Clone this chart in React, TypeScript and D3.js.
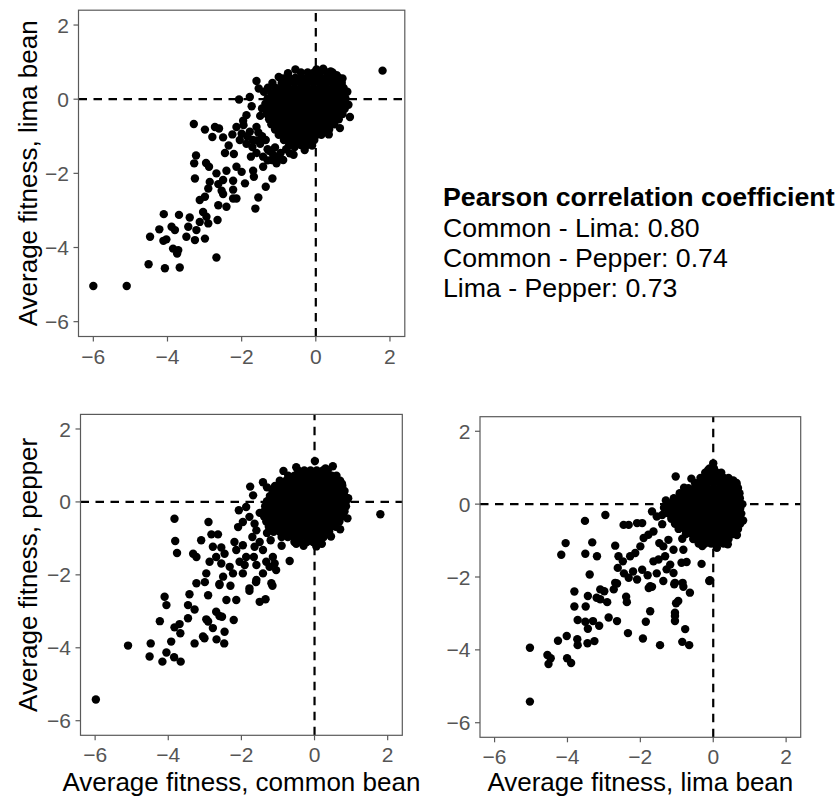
import React from "react";
import * as d3 from "d3";

type Pt = [number, number];
type Row = [number, number[]];

const axisTicks = [-6, -4, -2, 0, 2];
const axisLimits: [number, number] = [-6.4, 2.4];

const titleCommon = "Average fitness, common bean";
const titleLima = "Average fitness, lima bean";
const titlePepper = "Average fitness, pepper";

const legendTitle = "Pearson correlation coefficient";
const legendLines = [
  "Common - Lima: 0.80",
  "Common - Pepper: 0.74",
  "Lima - Pepper: 0.73",
];

// Panel 1: common bean (x) vs lima bean (y)
const commonLimaSpread: Pt[] = [
  [1.8, 0.77], [0.02, 0.8], [-1.6, 0.49], [-1.54, 0.29], [-1.17, 0.44], [-0.88, 0.56], [-1.29, 0.31],
  [-2.07, -0.01], [-1.78, 0.06], [-1.73, -0.19], [0.56, 0.65], [0.72, 0.56], [0.92, -0.48], [-0.3, -1.37],
  [-3.29, -0.67], [-2.99, -0.82], [-2.72, -0.75], [-2.61, -0.79], [-2.79, -1.02], [-2.5, -1.03], [-2.14, -0.75],
  [-1.96, -0.58], [-1.87, -0.43], [-2.0, -0.93], [-1.78, -0.88], [-1.6, -0.75], [-1.87, -1.2], [-1.6, -1.11],
  [-1.71, -1.29], [-1.42, -1.55], [-1.19, -1.64], [-1.06, -1.73], [-0.88, -1.64], [-0.7, -1.46], [-0.57, -1.29],
  [-1.45, -1.0], [-1.5, -0.45], [-1.3, -1.35],
  [-1.95, -0.7], [-1.85, -1.0], [-1.7, -1.1], [-1.55, -0.9], [-1.5, -1.2], [-1.35, -1.1], [-1.25, -1.4],
  [-1.1, -1.3], [-1.15, -1.5], [-0.95, -1.45], [-0.8, -1.35], [-1.3, -1.65], [-1.0, -1.6], [-0.6, -1.5],
  [-1.6, -1.45], [-2.05, -1.1], [-1.75, -1.55], [-2.25, -0.95], [-2.35, -1.25],
  [-1.0, 0.6], [-0.75, 0.7], [-0.55, 0.8], [-1.4, 0.2], [0.4, 0.75], [0.85, 0.2], [0.88, -0.15],
  [0.65, -0.78], [0.35, -0.95], [-0.1, -1.25], [-1.45, -0.25], [0.2, 0.82],
  [-2.45, -1.45], [-2.21, -1.48], [-3.23, -1.52], [-3.28, -1.73], [-2.96, -1.72], [-2.88, -1.82], [-2.68, -2.0],
  [-2.41, -1.93], [-2.14, -1.82], [-2.0, -1.96], [-1.69, -1.93], [-1.67, -2.09], [-1.91, -2.27], [-2.23, -2.2],
  [-2.5, -2.18], [-2.63, -2.29], [-2.86, -2.23], [-3.26, -2.14], [-2.9, -2.41], [-2.54, -2.47], [-2.23, -2.44],
  [-1.17, -2.14], [-1.35, -2.36], [-1.42, -1.82],
  [-3.13, -2.72], [-2.99, -2.63], [-2.5, -2.56], [-2.23, -2.68], [-2.14, -2.68], [-1.55, -2.65], [-2.63, -2.86],
  [-2.41, -2.9], [-1.63, -2.95], [-4.1, -3.1], [-3.69, -3.12], [-3.4, -3.19], [-3.04, -3.04], [-2.95, -3.17],
  [-3.13, -3.31], [-2.9, -3.35], [-2.65, -3.26], [-4.22, -3.51], [-3.89, -3.44], [-3.8, -3.53], [-3.44, -3.44],
  [-3.22, -3.53], [-4.47, -3.71], [-4.11, -3.82], [-4.03, -3.78], [-3.49, -3.71], [-3.26, -3.8], [-2.99, -3.76],
  [-3.85, -4.03], [-3.71, -4.07], [-3.74, -4.16], [-2.68, -4.27], [-4.51, -4.45], [-4.07, -4.56], [-3.67, -4.54],
  [-6.0, -5.04], [-5.1, -5.04],
];

const commonLimaCoreRows: Row[] = [
  [0.72, [-0.4, -0.22, -0.05, 0.12, 0.3, 0.45]],
  [0.58, [-0.72, -0.55, -0.38, -0.2, -0.03, 0.14, 0.31, 0.48, 0.62]],
  [0.44, [-0.92, -0.75, -0.58, -0.41, -0.24, -0.07, 0.1, 0.27, 0.44, 0.6, 0.7]],
  [0.3, [-1.08, -0.91, -0.74, -0.57, -0.4, -0.23, -0.06, 0.11, 0.28, 0.45, 0.62, 0.75]],
  [0.16, [-1.2, -1.03, -0.86, -0.69, -0.52, -0.35, -0.18, -0.01, 0.16, 0.33, 0.5, 0.66, 0.78]],
  [0.02, [-1.3, -1.13, -0.96, -0.79, -0.62, -0.45, -0.28, -0.11, 0.06, 0.23, 0.4, 0.57, 0.74, 0.8]],
  [-0.12, [-1.36, -1.19, -1.02, -0.85, -0.68, -0.51, -0.34, -0.17, 0.0, 0.17, 0.34, 0.51, 0.68, 0.8]],
  [-0.26, [-1.36, -1.22, -1.05, -0.88, -0.71, -0.54, -0.37, -0.2, -0.03, 0.14, 0.31, 0.48, 0.65, 0.78]],
  [-0.4, [-1.32, -1.15, -0.98, -0.81, -0.64, -0.47, -0.3, -0.13, 0.04, 0.21, 0.38, 0.55, 0.72]],
  [-0.54, [-1.26, -1.09, -0.92, -0.75, -0.58, -0.41, -0.24, -0.07, 0.1, 0.27, 0.44, 0.62]],
  [-0.68, [-1.2, -1.03, -0.86, -0.69, -0.52, -0.35, -0.18, -0.01, 0.16, 0.33, 0.5]],
  [-0.82, [-1.1, -0.93, -0.76, -0.59, -0.42, -0.25, -0.08, 0.09, 0.26, 0.36]],
  [-0.96, [-1.0, -0.83, -0.66, -0.49, -0.32, -0.15, 0.02, 0.15]],
  [-1.1, [-0.86, -0.69, -0.52, -0.35, -0.18, -0.04]],
  [-1.24, [-0.72, -0.55, -0.38, -0.26]],
];

// Panel 2: common bean (x) vs pepper (y)
const commonPepperSpread: Pt[] = [
  [0.01, 1.12], [0.5, 0.98], [1.8, -0.34], [-1.41, 0.54], [-1.76, 0.42], [-1.68, 0.18], [-2.07, -0.23],
  [-1.87, -0.14], [-1.78, -0.41], [-1.64, -0.6], [-2.09, -0.69], [-1.96, -0.55], [-1.59, -0.78], [-1.7, -0.96],
  [-1.5, -1.1], [-1.64, -1.23], [-1.41, -1.32], [-1.66, -1.51], [-2.19, -1.1], [-2.14, -1.32], [-1.96, -1.19],
  [-1.87, -1.51], [-2.05, -1.64], [-1.91, -1.73], [-1.59, -1.73], [-1.32, -1.64], [-1.14, -1.51], [-1.23, -1.78],
  [-1.05, -1.87], [-0.68, -1.62], [-1.09, -1.69], [-0.5, -1.15], [0.2, -1.15], [-0.9, -1.2],
  [-0.85, 0.85], [-0.5, 0.95], [0.3, 0.92], [0.75, 0.5], [0.92, 0.1], [0.9, -0.45], [0.7, -0.75],
  [0.45, -0.95], [0.05, -1.22], [-0.3, -1.2], [-1.3, -0.85], [-1.5, -0.3], [-1.3, 0.4], [-1.2, -1.05],
  [-3.83, -0.46], [-2.9, -0.55], [-2.82, -0.89], [-2.64, -0.89], [-3.1, -1.05], [-3.81, -1.07], [-3.76, -1.4],
  [-3.32, -1.42], [-3.23, -1.51], [-2.78, -1.23], [-2.55, -1.25], [-2.46, -1.42], [-2.69, -1.51], [-2.87, -1.64],
  [-2.55, -1.69], [-2.32, -1.78], [-2.23, -1.96], [-2.5, -2.05], [-1.96, -1.96], [-1.59, -2.14], [-1.41, -1.96],
  [-1.18, -2.23], [-2.96, -1.96], [-3.23, -2.23], [-2.6, -2.28], [-1.78, -2.37],
  [-3.0, -2.2], [-2.6, -2.25], [-2.3, -2.3], [-1.6, -2.2], [-1.15, -2.3],
  [-3.42, -2.53], [-2.91, -2.56], [-2.41, -2.69], [-2.14, -2.69], [-1.78, -2.44], [-1.5, -2.74], [-1.34, -2.67],
  [-4.1, -2.6], [-4.05, -2.83], [-3.46, -2.83], [-3.28, -2.95], [-3.46, -3.19], [-4.23, -3.27], [-3.69, -3.35],
  [-3.83, -3.44], [-3.67, -3.6], [-3.92, -3.83], [-4.48, -3.88], [-4.51, -4.24], [-4.05, -4.13], [-4.16, -4.38],
  [-3.84, -4.26], [-3.66, -4.38], [-5.1, -3.94], [-5.98, -5.42], [-2.96, -3.22], [-3.01, -3.74], [-3.05, -3.69],
  [-2.91, -3.28], [-2.69, -3.01], [-2.6, -3.13], [-2.53, -3.15], [-2.78, -3.46], [-2.68, -3.77], [-2.47, -3.88],
  [-2.46, -3.56], [-2.21, -3.24], [-3.28, -3.88],
];

const commonPepperCoreRows: Row[] = [
  [0.86, [-0.45, -0.28, -0.11, 0.06, 0.23, 0.36]],
  [0.72, [-0.72, -0.55, -0.38, -0.21, -0.04, 0.13, 0.3, 0.47, 0.6]],
  [0.58, [-0.95, -0.78, -0.61, -0.44, -0.27, -0.1, 0.07, 0.24, 0.41, 0.58, 0.7]],
  [0.44, [-1.08, -0.91, -0.74, -0.57, -0.4, -0.23, -0.06, 0.11, 0.28, 0.45, 0.62, 0.76]],
  [0.3, [-1.15, -0.98, -0.81, -0.64, -0.47, -0.3, -0.13, 0.04, 0.21, 0.38, 0.55, 0.72, 0.82]],
  [0.16, [-1.22, -1.05, -0.88, -0.71, -0.54, -0.37, -0.2, -0.03, 0.14, 0.31, 0.48, 0.65, 0.82]],
  [0.02, [-1.3, -1.13, -0.96, -0.79, -0.62, -0.45, -0.28, -0.11, 0.06, 0.23, 0.4, 0.57, 0.74, 0.86]],
  [-0.12, [-1.35, -1.18, -1.01, -0.84, -0.67, -0.5, -0.33, -0.16, 0.01, 0.18, 0.35, 0.52, 0.69, 0.86]],
  [-0.26, [-1.38, -1.22, -1.05, -0.88, -0.71, -0.54, -0.37, -0.2, -0.03, 0.14, 0.31, 0.48, 0.65, 0.82]],
  [-0.4, [-1.38, -1.21, -1.04, -0.87, -0.7, -0.53, -0.36, -0.19, -0.02, 0.15, 0.32, 0.49, 0.66, 0.76]],
  [-0.54, [-1.32, -1.15, -0.98, -0.81, -0.64, -0.47, -0.3, -0.13, 0.04, 0.21, 0.38, 0.55, 0.68]],
  [-0.68, [-1.25, -1.08, -0.91, -0.74, -0.57, -0.4, -0.23, -0.06, 0.11, 0.28, 0.45, 0.58]],
  [-0.82, [-1.12, -0.95, -0.78, -0.61, -0.44, -0.27, -0.1, 0.07, 0.24, 0.4]],
  [-0.96, [-0.9, -0.73, -0.56, -0.39, -0.22, -0.05, 0.12, 0.25]],
  [-1.1, [-0.55, -0.38, -0.21, -0.04, 0.1]],
];

// Panel 3: lima bean (x) vs pepper (y)
const limaPepperSpread: Pt[] = [
  [0.0, 1.12], [-0.14, 0.94], [-1.03, 0.76], [0.64, 0.53], [0.27, 0.71],
  [-0.6, 0.7], [-0.8, 0.45], [0.55, 0.65], [0.8, 0.0], [0.82, -0.45], [0.65, -0.85], [0.4, -1.1],
  [0.1, -1.2], [-0.3, -1.15], [-0.85, -0.95], [-1.35, -0.1], [-1.3, 0.1],
  [-3.52, -0.46], [-2.96, -0.3], [-2.46, -0.57], [-2.32, -0.57], [-2.09, -0.52], [-1.95, -0.52], [-1.68, -0.2],
  [-1.55, -0.34], [-1.4, -0.3], [-1.4, -0.55],
  [-4.05, -1.07], [-4.17, -1.39], [-3.51, -1.36], [-3.32, -1.05], [-3.19, -1.43], [-2.69, -1.14], [-2.6, -1.43],
  [-2.48, -1.57], [-2.28, -1.43], [-2.14, -1.34], [-2.0, -1.16], [-1.91, -0.93], [-1.78, -0.84], [-1.64, -0.75],
  [-1.48, -1.07], [-1.37, -1.16], [-1.23, -0.98], [-1.64, -1.57], [-1.5, -1.52], [-1.32, -1.43], [-1.09, -1.25],
  [-0.82, -1.25], [-0.32, -1.64], [-0.87, -1.61], [-0.73, -1.59], [-1.18, -1.66], [-1.28, -1.79], [-1.09, -1.89],
  [-3.39, -1.93], [-2.62, -1.75], [-2.32, -2.02], [-2.09, -2.07], [-1.73, -2.25], [-0.09, -2.09],
  [-2.2, -1.85], [-1.95, -1.8], [-1.8, -1.95], [-1.55, -1.9], [-2.45, -1.9], [-3.1, -2.34], [-2.69, -2.16],
  [-1.37, -2.11], [-1.05, -2.16],
  [-5.03, -3.94], [-5.03, -5.42], [-4.55, -4.14], [-4.46, -4.23], [-4.52, -4.39], [-4.01, -4.23], [-3.9, -4.36],
  [-4.26, -3.75], [-4.02, -3.62], [-3.73, -3.71], [-3.72, -3.87], [-3.45, -3.82], [-3.26, -3.76], [-3.81, -2.4],
  [-3.81, -2.81], [-3.5, -2.81], [-3.44, -2.52], [-3.72, -3.18], [-3.51, -3.23], [-3.44, -3.42], [-3.3, -3.21],
  [-3.13, -3.34], [-3.2, -2.57], [-3.1, -2.61], [-2.99, -2.39], [-2.91, -2.69], [-2.87, -3.11], [-2.64, -3.21],
  [-2.73, -2.34], [-2.64, -2.18], [-2.39, -2.54], [-2.37, -2.69], [-2.34, -3.54], [-1.93, -3.69], [-1.85, -3.23],
  [-1.73, -2.94], [-1.77, -2.3], [-1.68, -2.27], [-1.46, -3.87], [-1.07, -2.2], [-0.84, -2.16], [-0.82, -2.27],
  [-1.02, -2.72], [-0.96, -2.66], [-1.05, -2.98], [-1.05, -3.07], [-1.05, -3.21], [-0.77, -3.43], [-0.64, -2.43],
  [-0.85, -3.78], [-0.66, -3.87], [-0.11, -2.11],
];

const limaPepperCoreRows: Row[] = [
  [0.98, [-0.1, 0.02]],
  [0.86, [-0.22, -0.06, 0.1, 0.22]],
  [0.72, [-0.35, -0.19, -0.03, 0.13, 0.29, 0.42]],
  [0.58, [-0.5, -0.33, -0.16, 0.01, 0.18, 0.35, 0.52, 0.64]],
  [0.44, [-0.68, -0.51, -0.34, -0.17, 0.0, 0.17, 0.34, 0.51, 0.68]],
  [0.3, [-0.92, -0.75, -0.58, -0.41, -0.24, -0.07, 0.1, 0.27, 0.44, 0.61, 0.72]],
  [0.16, [-1.08, -0.91, -0.74, -0.57, -0.4, -0.23, -0.06, 0.11, 0.28, 0.45, 0.62, 0.73]],
  [0.02, [-1.2, -1.03, -0.86, -0.69, -0.52, -0.35, -0.18, -0.01, 0.16, 0.33, 0.5, 0.67, 0.74]],
  [-0.12, [-1.25, -1.08, -0.91, -0.74, -0.57, -0.4, -0.23, -0.06, 0.11, 0.28, 0.45, 0.62, 0.74]],
  [-0.26, [-1.22, -1.05, -0.88, -0.71, -0.54, -0.37, -0.2, -0.03, 0.14, 0.31, 0.48, 0.65, 0.77]],
  [-0.4, [-1.15, -0.98, -0.81, -0.64, -0.47, -0.3, -0.13, 0.04, 0.21, 0.38, 0.55, 0.72]],
  [-0.54, [-1.05, -0.88, -0.71, -0.54, -0.37, -0.2, -0.03, 0.14, 0.31, 0.48, 0.65, 0.74]],
  [-0.68, [-0.95, -0.78, -0.61, -0.44, -0.27, -0.1, 0.07, 0.24, 0.41, 0.58, 0.68]],
  [-0.82, [-0.75, -0.58, -0.41, -0.24, -0.07, 0.1, 0.27, 0.44, 0.55]],
  [-0.96, [-0.55, -0.38, -0.21, -0.04, 0.13, 0.3, 0.42]],
  [-1.08, [-0.4, -0.23, -0.06, 0.11, 0.28]],
];

const flattenRows = (rows: Row[]): Pt[] =>
  rows.flatMap(([y, xs]) => xs.map((x) => [x, y] as Pt));

const FONT = "'Liberation Sans', Arial, Helvetica, sans-serif";
const fmt = d3.format("d");

interface PanelProps {
  l: number;
  t: number;
  r: number;
  b: number;
  points: Pt[];
  xTitle?: string;
  yTitle?: string;
}

function Panel({ l, t, r, b, points, xTitle, yTitle }: PanelProps) {
  const x = d3.scaleLinear().domain(axisLimits).range([l, r]);
  const y = d3.scaleLinear().domain(axisLimits).range([b, t]);
  const cx = (l + r) / 2;
  const cy = (t + b) / 2;
  return (
    <g>
      <rect x={l} y={t} width={r - l} height={b - t} fill="#fff" />
      <line x1={l} x2={r} y1={y(0)} y2={y(0)} stroke="#000" strokeWidth={2.2} strokeDasharray="8.5 6.5" />
      <line x1={x(0)} x2={x(0)} y1={b} y2={t} stroke="#000" strokeWidth={2.2} strokeDasharray="8.5 6.5" />
      {points.map((p, i) => (
        <circle key={i} cx={x(p[0])} cy={y(p[1])} r={4.2} fill="#000" />
      ))}
      <rect x={l} y={t} width={r - l} height={b - t} fill="none" stroke="#5a5a5a" strokeWidth={1.2} />
      {axisTicks.map((v) => (
        <g key={"x" + v}>
          <line x1={x(v)} x2={x(v)} y1={b} y2={b + 5} stroke="#5a5a5a" strokeWidth={1.2} />
          <text x={x(v)} y={b + 27} textAnchor="middle" fontSize={21} fill="#555" fontFamily={FONT}>
            {fmt(v)}
          </text>
        </g>
      ))}
      {axisTicks.map((v) => (
        <g key={"y" + v}>
          <line x1={l - 5} x2={l} y1={y(v)} y2={y(v)} stroke="#5a5a5a" strokeWidth={1.2} />
          <text x={l - 9.5} y={y(v)} dy="0.36em" textAnchor="end" fontSize={21} fill="#555" fontFamily={FONT}>
            {fmt(v)}
          </text>
        </g>
      ))}
      {xTitle && (
        <text x={cx} y={791} textAnchor="middle" fontSize={26} fill="#000" fontFamily={FONT}>
          {xTitle}
        </text>
      )}
      {yTitle && (
        <text
          transform={`translate(36.5,${cy}) rotate(-90)`}
          textAnchor="middle"
          fontSize={26}
          fill="#000"
          fontFamily={FONT}
        >
          {yTitle}
        </text>
      )}
    </g>
  );
}

export default function App() {
  const p1 = [...flattenRows(commonLimaCoreRows), ...commonLimaSpread];
  const p2 = [...flattenRows(commonPepperCoreRows), ...commonPepperSpread];
  const p3 = [...flattenRows(limaPepperCoreRows), ...limaPepperSpread];
  return (
    <svg
      width={838}
      height={797}
      style={{ position: "absolute", left: 0, top: 0, display: "block", background: "#fff" }}
    >
      <rect x={0} y={0} width={838} height={797} fill="#fff" />
      <Panel l={78.5} t={10.2} r={404.8} b={336.5} points={p1} yTitle={titleLima} />
      <Panel l={80.5} t={414.4} r={402.3} b={735.3} points={p2} xTitle={titleCommon} yTitle={titlePepper} />
      <Panel l={480} t={416.7} r={800.7} b={737.3} points={p3} xTitle={titleLima} />
      <g fontFamily={FONT} fontSize={26.7} fill="#000">
        <text x={443} y={206} fontWeight="bold">
          {legendTitle}
        </text>
        {legendLines.map((s, i) => (
          <text key={s} x={443} y={236.5 + i * 30.3}>
            {s}
          </text>
        ))}
      </g>
    </svg>
  );
}
